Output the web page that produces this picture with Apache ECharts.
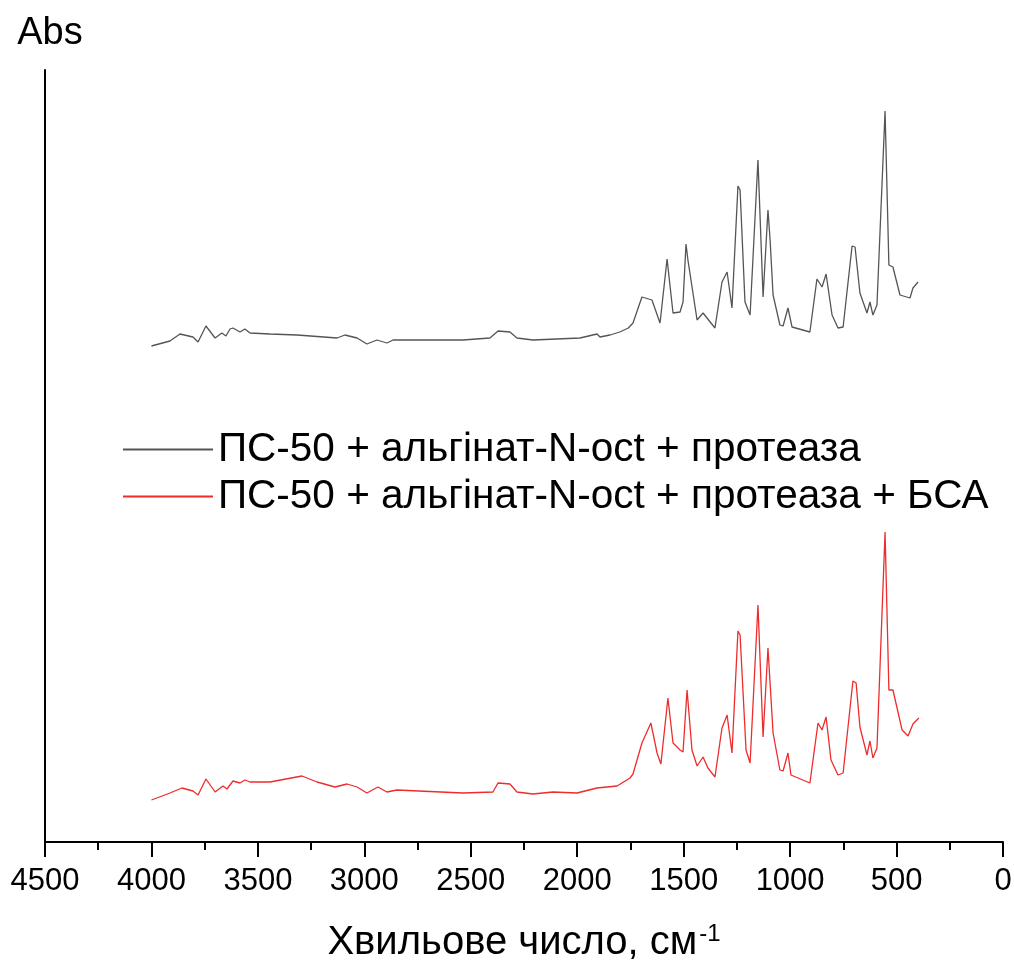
<!DOCTYPE html>
<html>
<head>
<meta charset="utf-8">
<title>ИЧ-спектри</title>
<script src="https://cdn.jsdelivr.net/npm/echarts@6/dist/echarts.min.js"></script>
<style>
  html, body { margin: 0; padding: 0; background: #fff; }
  #chart { width: 1014px; height: 962px; }
</style>
</head>
<body>
<div id="chart"></div>
<script>
// назви серій
const seriesNames = [
  'ПС-50 + альгінат-N-oct + протеаза',
  'ПС-50 + альгінат-N-oct + протеаза + БСА'
];

// мітки осі X (хвильове число, см-1)
const xTicks = [4500, 4000, 3500, 3000, 2500, 2000, 1500, 1000, 500, 0];

// спектр 1 (сірий)
const blackWave = [4000, 3913, 3866, 3805, 3781, 3744, 3701, 3669, 3650, 3631, 3617, 3584, 3561, 3537, 3443, 3316, 3128, 3091, 3034, 2988, 2941, 2894, 2865, 2537, 2410, 2372, 2316, 2283, 2208, 1987, 1907, 1893, 1846, 1800, 1760, 1738, 1696, 1649, 1611, 1578, 1550, 1517, 1503, 1489, 1480, 1437, 1409, 1353, 1320, 1296, 1273, 1245, 1235, 1212, 1188, 1151, 1127, 1104, 1094, 1080, 1048, 1033, 1010, 991, 907, 874, 850, 831, 803, 775, 751, 709, 695, 672, 639, 625, 611, 592, 554, 536, 517, 484, 437, 423, 399];
const blackAbs = [49.6, 50.1, 50.8, 50.5, 50.0, 51.6, 50.4, 50.9, 50.6, 51.3, 51.4, 51.0, 51.3, 50.9, 50.8, 50.7, 50.4, 50.7, 50.4, 49.8, 50.2, 49.9, 50.2, 50.2, 50.4, 51.1, 51.0, 50.4, 50.2, 50.4, 50.8, 50.5, 50.7, 51.0, 51.4, 51.9, 54.5, 54.2, 51.9, 58.3, 52.9, 53.0, 54.0, 59.8, 58.2, 52.2, 52.9, 51.4, 56.0, 57.0, 53.4, 65.6, 65.2, 54.0, 52.7, 68.2, 54.5, 63.2, 60.2, 54.7, 51.7, 51.6, 53.4, 51.5, 51.0, 56.3, 55.5, 56.8, 52.7, 51.4, 51.5, 59.6, 59.5, 54.9, 52.9, 54.0, 52.7, 53.7, 73.1, 57.7, 57.5, 54.7, 54.4, 55.4, 56.0];

// спектр 2 (червоний)
const redWave = [4000, 3913, 3857, 3805, 3781, 3744, 3701, 3664, 3645, 3617, 3584, 3561, 3537, 3443, 3293, 3222, 3138, 3081, 3034, 2988, 2936, 2894, 2847, 2537, 2396, 2372, 2316, 2283, 2208, 2114, 2001, 1907, 1813, 1752, 1738, 1696, 1654, 1625, 1607, 1574, 1550, 1517, 1503, 1484, 1461, 1437, 1409, 1386, 1353, 1320, 1296, 1273, 1245, 1235, 1207, 1188, 1151, 1127, 1104, 1080, 1048, 1033, 1010, 996, 907, 869, 850, 831, 808, 775, 751, 705, 690, 672, 639, 625, 611, 592, 554, 536, 517, 474, 446, 423, 395];
const redAbs = [4.2, 4.9, 5.4, 5.1, 4.7, 6.3, 5.0, 5.6, 5.3, 6.1, 5.9, 6.2, 6.0, 6.0, 6.6, 6.0, 5.5, 5.8, 5.5, 4.9, 5.5, 5.0, 5.2, 4.9, 5.0, 5.9, 5.8, 5.0, 4.8, 5.0, 4.9, 5.4, 5.6, 6.4, 6.8, 9.9, 11.9, 8.9, 7.8, 14.4, 9.9, 9.2, 9.0, 15.2, 9.2, 7.6, 8.5, 7.4, 6.5, 11.4, 12.7, 8.9, 21.1, 20.7, 9.2, 7.9, 23.7, 10.5, 19.4, 10.9, 7.2, 7.1, 8.9, 6.7, 5.9, 11.9, 11.2, 12.5, 8.2, 6.7, 6.9, 16.1, 15.9, 11.5, 8.7, 10.1, 8.4, 9.4, 31.0, 15.2, 15.2, 11.2, 10.6, 11.8, 12.4];

const colors = ['#555555', '#ee2c2c'];

function pairs(xs, ys) {
  return xs.map((x, i) => [x, ys[i]]);
}

const chart = echarts.init(document.getElementById('chart'));

const option = {
  animation: false,
  color: colors,
  textStyle: { fontFamily: 'Liberation Sans, Arial, sans-serif', color: '#000' },
  grid: {
    left: 45,
    right: 11,
    top: 70,
    bottom: 120,
    containLabel: false,
    outerBoundsMode: 'none'
  },
  legend: {
    orient: 'vertical',
    left: 123,
    top: 429,
    padding: 0,
    itemWidth: 90,
    itemHeight: 2,
    itemGap: 6,
    itemTextGap: 13,
    icon: 'rect',
    textStyle: { fontSize: 40.5, lineHeight: 40, color: '#000' },
    data: seriesNames
  },
  xAxis: {
    type: 'value',
    min: 0,
    max: 4500,
    interval: 500,
    inverse: true,
    name: '{a|Хвильове число, см}{b|-1}',
    nameLocation: 'middle',
    nameGap: 80,
    nameTextStyle: {
      rich: {
        a: { fontSize: 40, color: '#000' },
        b: { fontSize: 24, color: '#000', verticalAlign: 'top', padding: [0, 0, 18, 2] }
      }
    },
    axisLine: { show: true, onZero: false, lineStyle: { color: '#000', width: 2 } },
    axisTick: { show: true, length: 15, lineStyle: { color: '#000', width: 2 } },
    minorTick: { show: true, splitNumber: 2, length: 8, lineStyle: { color: '#000', width: 2 } },
    axisLabel: {
      fontSize: 31,
      color: '#000',
      margin: 24,
      formatter: v => xTicks.includes(v) ? String(v) : ''
    },
    splitLine: { show: false }
  },
  yAxis: {
    type: 'value',
    position: 'left',
    min: 0,
    max: 77.2,
    name: 'Abs',
    nameLocation: 'end',
    nameGap: 17,
    nameTextStyle: { fontSize: 38, color: '#000', padding: [0, 0, 0, 10] },
    axisLine: { show: true, onZero: false, lineStyle: { color: '#000', width: 2 } },
    axisTick: { show: false },
    axisLabel: { show: false },
    splitLine: { show: false }
  },
  series: [
    {
      name: seriesNames[0],
      type: 'line',
      data: pairs(blackWave, blackAbs),
      showSymbol: false,
      symbol: 'none',
      lineStyle: { width: 1.3, color: colors[0] }
    },
    {
      name: seriesNames[1],
      type: 'line',
      data: pairs(redWave, redAbs),
      showSymbol: false,
      symbol: 'none',
      lineStyle: { width: 1.3, color: colors[1] }
    }
  ]
};

chart.setOption(option);
</script>
</body>
</html>
